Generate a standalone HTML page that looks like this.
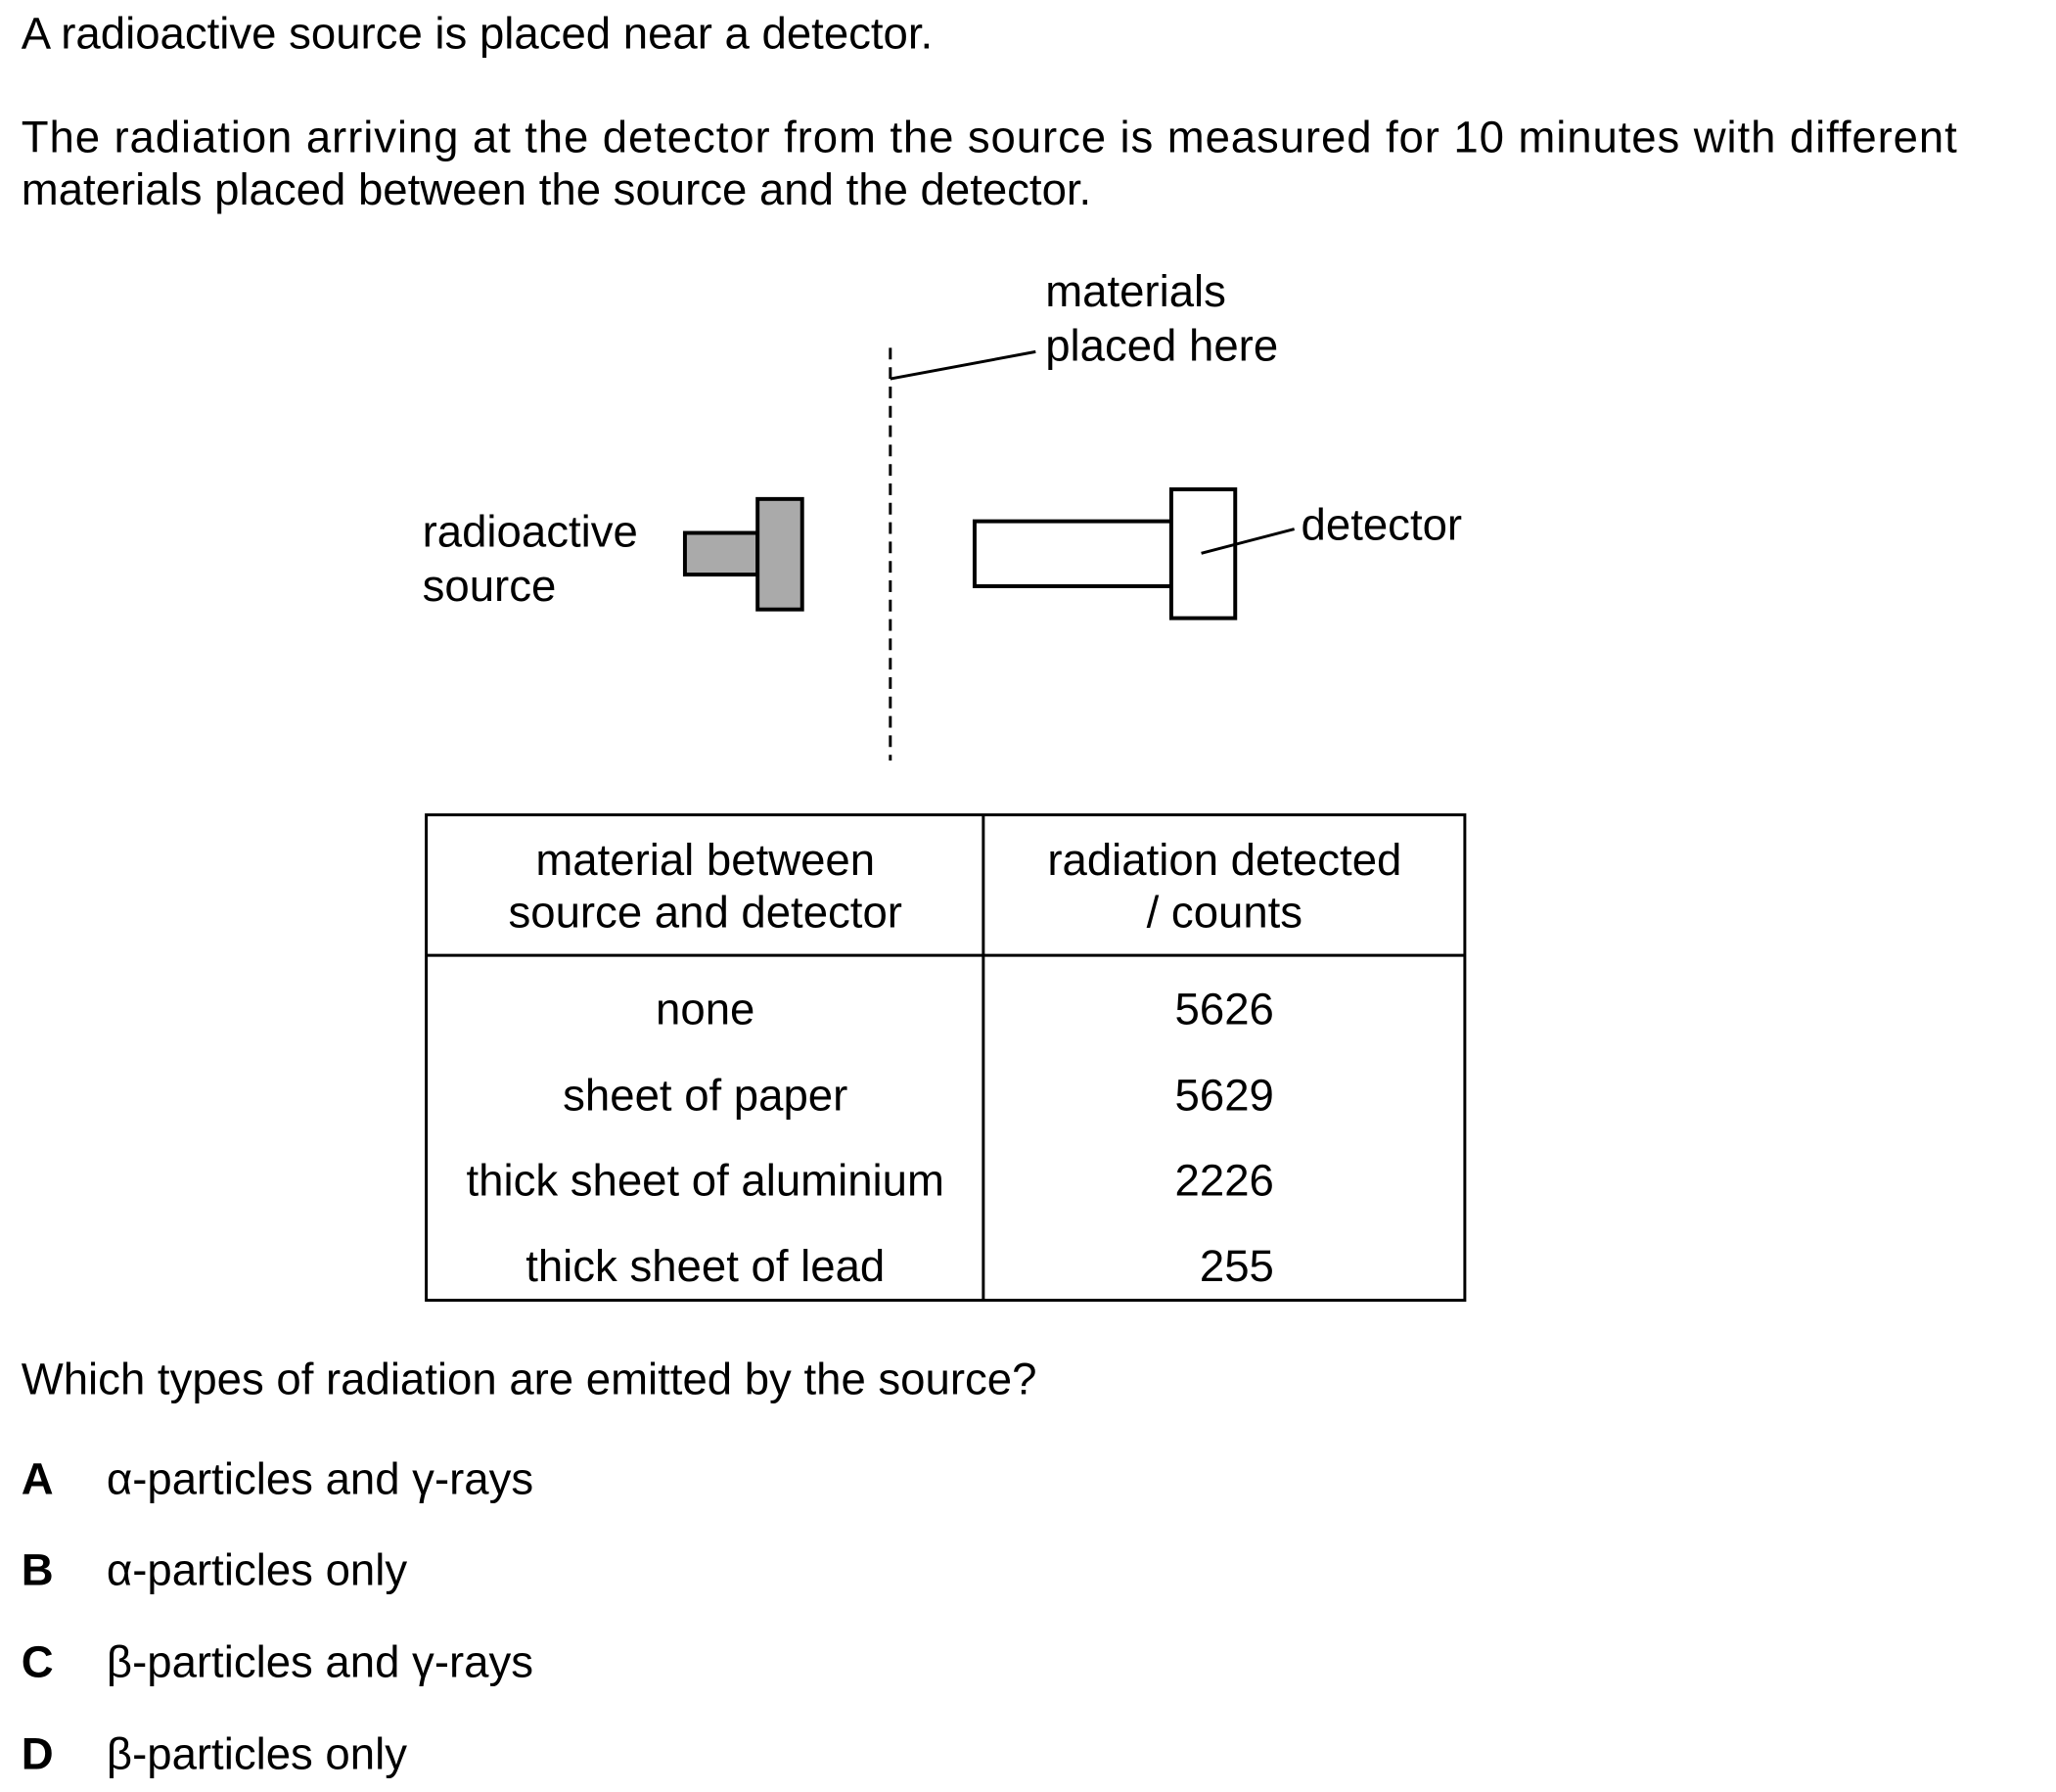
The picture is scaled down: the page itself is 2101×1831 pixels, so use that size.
<!DOCTYPE html>
<html><head><meta charset="utf-8"><style>
html,body{margin:0;padding:0;background:#fff;}
svg{display:block;}
text{font-family:"Liberation Sans",Arial,sans-serif;font-size:46px;fill:#000;}
</style></head><body>
<svg width="2101" height="1831" viewBox="0 0 2101 1831" xmlns="http://www.w3.org/2000/svg">
<g transform="scale(0.99)">
<text x="22" y="50">A radioactive source is placed near a detector.</text>
<text x="22" y="157" textLength="1998" lengthAdjust="spacing">The radiation arriving at the detector from the source is measured for 10 minutes with different</text>
<text x="22" y="211">materials placed between the source and the detector.</text>

<text x="1079" y="316">materials</text>
<text x="1079" y="372">placed here</text>
<line x1="919" y1="359" x2="919" y2="785" stroke="#000" stroke-width="3" stroke-dasharray="12,8"/>
<line x1="919" y1="391" x2="1069" y2="363" stroke="#000" stroke-width="3"/>

<text x="436" y="564">radioactive</text>
<text x="436" y="620">source</text>
<rect x="707" y="550" width="75" height="43" fill="#aaa" stroke="#000" stroke-width="4"/>
<rect x="782" y="515" width="46" height="114" fill="#aaa" stroke="#000" stroke-width="4"/>

<rect x="1006" y="538" width="203" height="67" fill="#fff" stroke="#000" stroke-width="4"/>
<rect x="1209" y="505" width="66" height="133" fill="#fff" stroke="#000" stroke-width="4"/>
<line x1="1240" y1="571" x2="1336" y2="546" stroke="#000" stroke-width="3"/>
<text x="1343" y="557">detector</text>

<rect x="440" y="841" width="1072" height="501" fill="none" stroke="#000" stroke-width="3"/>
<line x1="1015" y1="841" x2="1015" y2="1342" stroke="#000" stroke-width="3"/>
<line x1="440" y1="986" x2="1512" y2="986" stroke="#000" stroke-width="3"/>
<g text-anchor="middle">
<text x="728" y="903">material between</text>
<text x="728" y="957">source and detector</text>
<text x="1264" y="903">radiation detected</text>
<text x="1264" y="957">/ counts</text>
<text x="728" y="1057">none</text>
<text x="728" y="1146">sheet of paper</text>
<text x="728" y="1234">thick sheet of aluminium</text>
<text x="728" y="1322">thick sheet of lead</text>
</g>
<g text-anchor="end">
<text x="1315" y="1057">5626</text>
<text x="1315" y="1146">5629</text>
<text x="1315" y="1234">2226</text>
<text x="1315" y="1322">255</text>
</g>

<text x="22" y="1439">Which types of radiation are emitted by the source?</text>
<text x="22" y="1542" font-weight="bold">A</text>
<text x="22" y="1636" font-weight="bold">B</text>
<text x="22" y="1731" font-weight="bold">C</text>
<text x="22" y="1826" font-weight="bold">D</text>
<text x="110" y="1542">α-particles and γ-rays</text>
<text x="110" y="1636">α-particles only</text>
<text x="110" y="1731">β-particles and γ-rays</text>
<text x="110" y="1826">β-particles only</text>
</g>
</svg>
</body></html>
